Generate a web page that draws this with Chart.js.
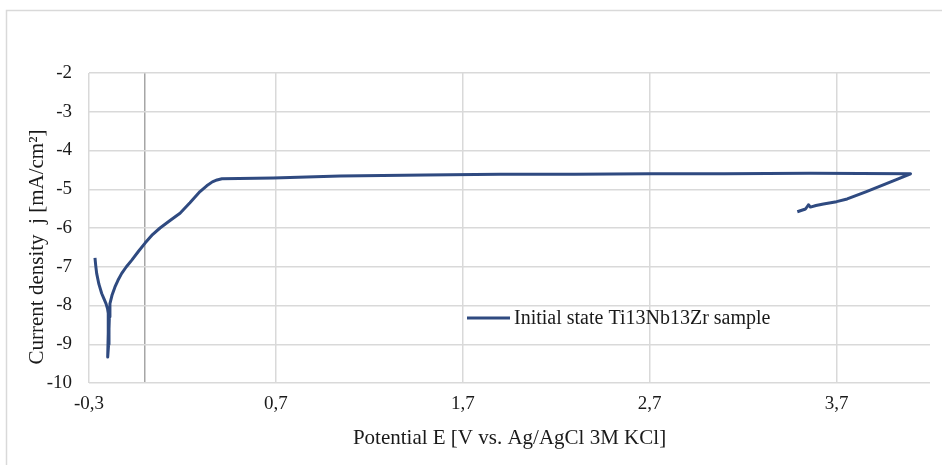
<!DOCTYPE html>
<html>
<head>
<meta charset="utf-8">
<script src="https://cdn.jsdelivr.net/npm/chart.js@4.4.1/dist/chart.umd.min.js"></script>
<style>
  html, body { margin: 0; padding: 0; background: #fff; }
  #wrap { width: 942px; height: 465px; }
</style>
</head>
<body>
<div id="wrap"><canvas id="chart" width="942" height="465"></canvas></div>
<script>
// potential E [V] and current density j
const potential = [
  -0.268, -0.264, -0.259, -0.247, -0.232, -0.218, -0.209, -0.201, -0.197, -0.197, -0.200,
  -0.195, -0.193, -0.191, -0.188, -0.176, -0.161, -0.145, -0.125, -0.100, -0.071, -0.035,
  0.000, 0.040, 0.080, 0.130, 0.187, 0.240, 0.294, 0.330, 0.360, 0.385, 0.411,
  0.685, 1.044, 1.500, 1.900, 2.300, 2.700, 3.100, 3.560, 4.096,
  4.030, 3.970, 3.860, 3.757, 3.700, 3.630, 3.590, 3.560, 3.550, 3.534, 3.490
];
const currentDensity = [
  -6.77, -6.97, -7.17, -7.45, -7.69, -7.85, -7.95, -8.08, -8.20, -8.71, -9.33,
  -9.00, -8.60, -8.29, -7.95, -7.72, -7.52, -7.35, -7.17, -7.00, -6.83, -6.60,
  -6.39, -6.17, -6.00, -5.82, -5.62, -5.35, -5.06, -4.91, -4.81, -4.76, -4.73,
  -4.71, -4.66, -4.63, -4.61, -4.61, -4.60, -4.60, -4.59, -4.60,
  -4.73, -4.85, -5.06, -5.25, -5.32, -5.38, -5.42, -5.46, -5.40, -5.51, -5.58
];
const xTicks = [-0.3, 0, 0.7, 1.7, 2.7, 3.7];
const seriesName = 'Initial state Ti13Nb13Zr sample';
const yTitle = 'Current density  j [mA/cm²]';

const serif = "'Liberation Serif', 'Times New Roman', serif";
const textColor = '#1a1a1a';
const gridColor = '#d9d9d9';
const lineColor = '#2f4a80';

const frame = {
  id: 'frame',
  beforeDraw(chart) {
    const ctx = chart.ctx;
    ctx.save();
    ctx.strokeStyle = '#d9d9d9';
    ctx.lineWidth = 1.5;
    ctx.strokeRect(6.5, 10.5, 1200, 1200);
    ctx.restore();
  }
};

// legend inside the plot area and the y title sitting a bit low, like the original
const extras = {
  id: 'extras',
  afterDraw(chart) {
    const ctx = chart.ctx;
    const y = 318;
    ctx.save();
    ctx.strokeStyle = lineColor;
    ctx.lineWidth = 3;
    ctx.beginPath();
    ctx.moveTo(467, y);
    ctx.lineTo(510, y);
    ctx.stroke();
    ctx.fillStyle = textColor;
    ctx.font = '20px ' + serif;
    ctx.textBaseline = 'middle';
    ctx.fillText(seriesName, 514, y + 1);

    ctx.translate(37, 247);
    ctx.rotate(-Math.PI / 2);
    ctx.font = '21px ' + serif;
    ctx.textAlign = 'center';
    ctx.fillText(yTitle, 0, 0);
    ctx.restore();
  }
};

new Chart(document.getElementById('chart'), {
  type: 'scatter',
  data: {
    datasets: [{
      label: seriesName,
      data: potential.map((e, i) => ({ x: e, y: currentDensity[i] })),
      showLine: true,
      borderColor: lineColor,
      backgroundColor: lineColor,
      borderWidth: 3,
      borderJoinStyle: 'round',
      pointRadius: 0,
      tension: 0
    }]
  },
  options: {
    responsive: false,
    animation: false,
    layout: { padding: { top: 73, right: 12, left: 0, bottom: 0 } },
    plugins: {
      legend: { display: false },
      tooltip: { enabled: false }
    },
    scales: {
      x: {
        type: 'linear',
        min: -0.3,
        max: 4.2,
        afterBuildTicks: s => { s.ticks = xTicks.map(v => ({ value: v })); },
        afterFit: s => { s.height = 82; },
        border: { display: false },
        grid: {
          drawTicks: false,
          lineWidth: 1.5,
          color: c => (c.tick && c.tick.value === 0 ? '#a6a6a6' : gridColor)
        },
        ticks: {
          padding: 10,
          color: textColor,
          font: { family: serif, size: 19 },
          callback: v => (v === 0 ? '' : v.toFixed(1).replace('.', ','))
        },
        title: {
          display: true,
          text: 'Potential E [V vs. Ag/AgCl 3M KCl]',
          color: textColor,
          font: { family: serif, size: 21 },
          padding: { top: 0, bottom: 14 }
        }
      },
      y: {
        min: -10,
        max: -2,
        afterFit: s => { s.width = 89; },
        border: { display: false },
        grid: { drawTicks: false, lineWidth: 1.5, color: gridColor },
        ticks: {
          stepSize: 1,
          padding: 17,
          color: textColor,
          font: { family: serif, size: 19 }
        },
        title: { display: false }
      }
    }
  },
  plugins: [frame, extras]
});
</script>
</body>
</html>
